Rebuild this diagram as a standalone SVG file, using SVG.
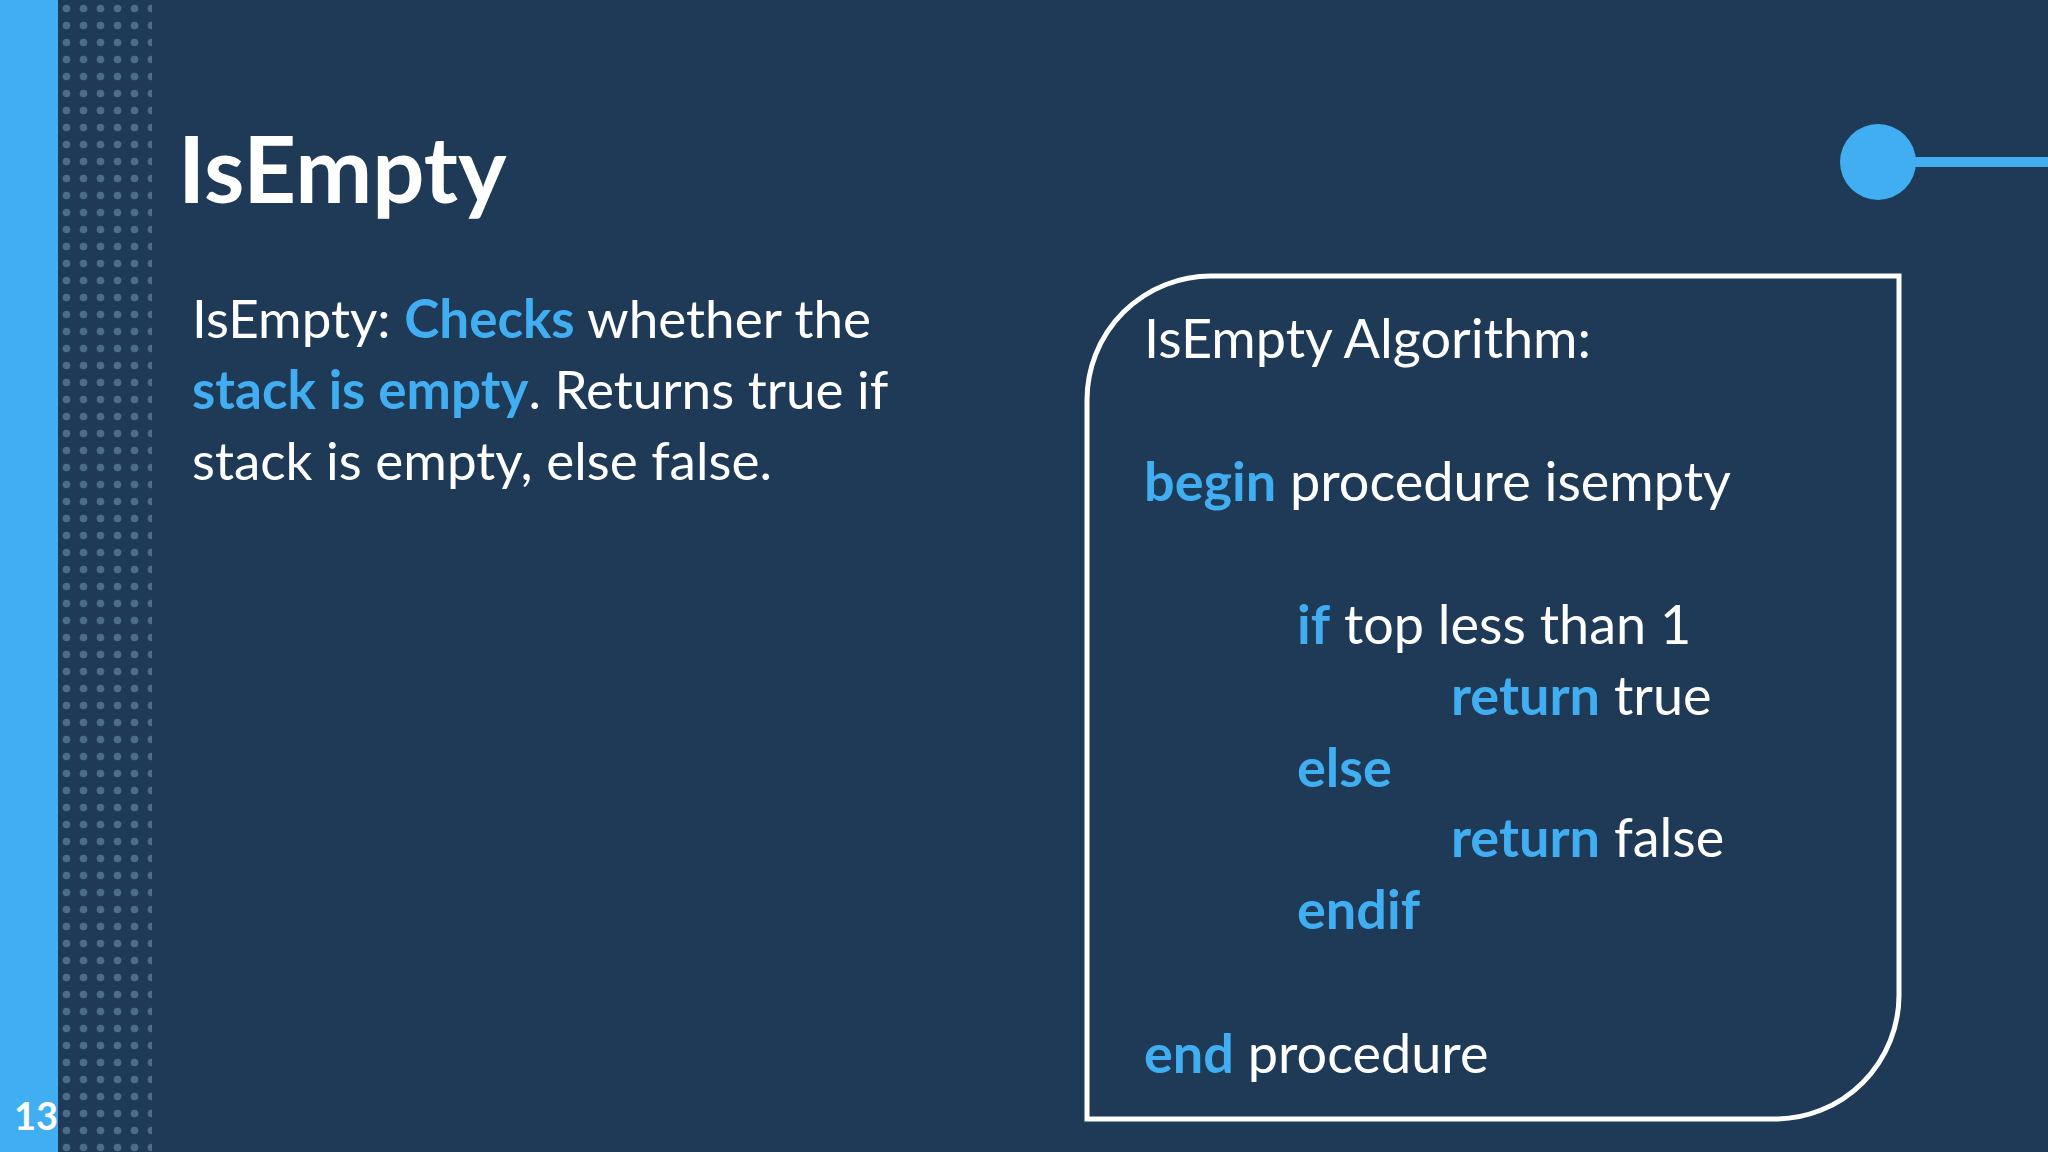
<svg xmlns="http://www.w3.org/2000/svg" width="2048" height="1152" viewBox="0 0 2048 1152">
<defs>
<pattern id="dots" x="-10" y="0" width="17" height="17" patternUnits="userSpaceOnUse">
<circle cx="8.5" cy="8.5" r="3.8" fill="#4c6d8a"/>
</pattern>
<style>
.t{font-family:Lato,"Open Sans",sans-serif;fill:#fff}
.b{font-weight:bold;fill:#41aef2}
</style>
</defs>
<rect width="2048" height="1152" fill="#1f3a56"/>
<rect x="58" y="0" width="94" height="1152" fill="url(#dots)"/>
<rect x="0" y="0" width="58" height="1152" fill="#41aef2"/>
<g id="pagenum"><text class="t" x="14" y="1130" font-size="38" font-weight="bold">13</text></g>
<g id="title"><text class="t" x="178" y="203" font-size="92" font-weight="bold">IsEmpty</text></g>
<g id="deco">
<line x1="1878" y1="162" x2="2048" y2="162" stroke="#41aef2" stroke-width="10"/>
<circle cx="1878" cy="162" r="38" fill="#41aef2"/>
</g>
<g id="desc" class="t" font-size="53">
<text x="192" y="338">IsEmpty: <tspan class="b">Checks</tspan> whether the</text>
<text x="192" y="409"><tspan class="b">stack is empty</tspan>. Returns true if</text>
<text x="192" y="480">stack is empty, else false.</text>
</g>
<g id="algo">
<path d="M1211 276 H1899 V995 A124 124 0 0 1 1775 1119 H1087 V400 A124 124 0 0 1 1211 276 Z" fill="none" stroke="#fff" stroke-width="5"/>
<g class="t" font-size="54">
<text x="1144" y="358">IsEmpty Algorithm:</text>
<text x="1144" y="501"><tspan class="b">begin</tspan> procedure isempty</text>
<text x="1297" y="644"><tspan class="b">if</tspan> top less than 1</text>
<text x="1451" y="715"><tspan class="b">return</tspan> true</text>
<text x="1297" y="787" class="b">else</text>
<text x="1451" y="857"><tspan class="b">return</tspan> false</text>
<text x="1297" y="929" class="b">endif</text>
<text x="1144" y="1073"><tspan class="b">end</tspan> procedure</text>
</g>
</g>
</svg>
